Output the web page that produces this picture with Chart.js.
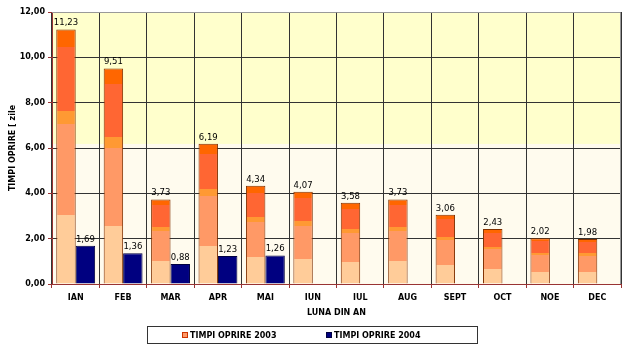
<!DOCTYPE html>
<html>
<head>
<meta charset="utf-8">
<script src="https://cdn.jsdelivr.net/npm/chart.js@4.4.1/dist/chart.umd.min.js"></script>
<style>
  html, body { margin: 0; padding: 0; background: #fff; }
  canvas { display: block; }
</style>
</head>
<body>
<canvas id="opririChart" width="625" height="346"></canvas>
<script>
// luni si timpi de oprire (zile)
const months = ["IAN", "FEB", "MAR", "APR", "MAI", "IUN", "IUL", "AUG", "SEPT", "OCT", "NOE", "DEC"]
const opriri2003 = [11.23, 9.51, 3.73, 6.19, 4.34, 4.07, 3.58, 3.73, 3.06, 2.43, 2.02, 1.98]
const opriri2004 = [1.69, 1.36, 0.88, 1.23, 1.26, null, null, null, null, null, null, null]
const yTicks = [0, 2, 4, 6, 8, 10, 12]

const seriesNames = ["TIMPI OPRIRE 2003", "TIMPI OPRIRE 2004"]

const FONT = '"DejaVu Sans", Verdana, sans-serif'
const AXIS_RED = "#993333"
const fmt = v => v.toFixed(2).replace(".", ",")

// benzi de culoare ale barelor 2003 (ca un gradient in trepte)
const bands = [
    [0.00, 0.27, "#FFCC99"],
    [0.27, 0.63, "#FF9966"],
    [0.63, 0.68, "#FF9933"],
    [0.68, 0.93, "#FF6633"],
    [0.93, 1.00, "#FF6600"]
]

function bandFill(ctx) {
    const chart = ctx.chart
    const v = ctx.raw
    const y = chart.scales && chart.scales.y
    if (ctx.type !== "data" || v == null || !y) return "#FF9966"
    const base = y.getPixelForValue(0)
    const top = y.getPixelForValue(v)
    if (!isFinite(base) || !isFinite(top)) return "#FF9966"
    const g = chart.ctx.createLinearGradient(0, base, 0, top)
    bands.forEach(b => {
        g.addColorStop(b[0], b[2])
        g.addColorStop(b[1], b[2])
    })
    return g
}

// fundalul zonei de desenare
const plotBackground = {
    id: "plotBackground",
    beforeDraw(chart) {
        const {ctx, chartArea: a, scales} = chart
        ctx.save()
        ctx.fillStyle = "#fff"
        ctx.fillRect(0, 0, chart.width, chart.height)
        ctx.fillStyle = "#FFFBEE"
        ctx.fillRect(a.left, a.top, a.right - a.left, a.bottom - a.top)
        const split = scales.y.getPixelForValue(6.18)
        ctx.fillStyle = "#FFFFCC"
        ctx.fillRect(a.left, a.top, a.right - a.left, split - a.top)
        ctx.restore()
    },
    afterDraw(chart) {
        const {ctx, chartArea: a} = chart
        ctx.save()
        ctx.strokeStyle = "#999"
        ctx.lineWidth = 1
        ctx.beginPath()
        ctx.moveTo(a.left, a.top + 0.5)
        ctx.lineTo(a.right - 0.5, a.top + 0.5)
        ctx.lineTo(a.right - 0.5, a.bottom)
        ctx.stroke()
        ctx.restore()
    }
}

// valorile deasupra barelor
const valueLabels = {
    id: "valueLabels",
    afterDatasetsDraw(chart) {
        const ctx = chart.ctx
        ctx.save()
        ctx.font = "8.5px " + FONT
        ctx.fillStyle = "#000"
        ctx.textAlign = "center"
        ctx.textBaseline = "alphabetic"
        chart.data.datasets.forEach((ds, i) => {
            chart.getDatasetMeta(i).data.forEach((bar, j) => {
                const v = ds.data[j]
                if (v == null) return
                ctx.fillText(fmt(v), bar.x, bar.y - 4)
            })
        })
        ctx.restore()
    }
}

// legenda cu chenar
const boxedLegend = {
    id: "boxedLegend",
    afterDraw(chart) {
        const ctx = chart.ctx
        ctx.save()
        ctx.strokeStyle = "#333"
        ctx.lineWidth = 1
        ctx.strokeRect(147.5, 326.5, 330, 17)
        ctx.font = "bold 8px " + FONT
        ctx.textBaseline = "middle"
        const items = [
            {x: 182, fill: "#FF9966", stroke: "#CC3300"},
            {x: 326, fill: "#000080", stroke: "#000040"}
        ]
        items.forEach((it, i) => {
            ctx.fillStyle = it.fill
            ctx.fillRect(it.x, 332, 6, 6)
            ctx.strokeStyle = it.stroke
            ctx.strokeRect(it.x + 0.5, 332.5, 5, 5)
            ctx.fillStyle = "#000"
            ctx.fillText(seriesNames[i], it.x + 8, 335.5)
        })
        ctx.restore()
    }
}

let CHART = document.getElementById("opririChart")
let opririChart = new Chart(CHART, {
    type: "bar",
    data: {
        labels: months,
        datasets: [
            {
                label: seriesNames[0],
                data: opriri2003,
                backgroundColor: bandFill,
                borderColor: "#803000",
                borderWidth: 1,
                borderSkipped: "bottom"
            },
            {
                label: seriesNames[1],
                data: opriri2004,
                backgroundColor: "#000080",
                borderColor: "#000040",
                borderWidth: 1,
                borderSkipped: "bottom"
            }
        ]
    },
    options: {
        responsive: false,
        animation: false,
        categoryPercentage: 0.82,
        barPercentage: 1,
        layout: {padding: {left: 4, right: 4, top: 12, bottom: 26}},
        plugins: {
            legend: {display: false},
            tooltip: {enabled: false}
        },
        scales: {
            x: {
                grid: {
                    offset: true,
                    color: "#333",
                    lineWidth: 1,
                    tickColor: AXIS_RED,
                    tickLength: 4
                },
                border: {color: AXIS_RED, width: 1},
                ticks: {
                    color: "#000",
                    font: {family: FONT, size: 8, weight: "bold"},
                    padding: 5,
                    maxRotation: 0,
                    autoSkip: false
                },
                title: {
                    display: true,
                    text: "LUNA DIN AN",
                    color: "#000",
                    font: {family: FONT, size: 8, weight: "bold"},
                    padding: {top: 4, bottom: 2}
                },
                afterFit: s => { s.height = 36 }
            },
            y: {
                min: 0,
                max: 12,
                afterBuildTicks: s => { s.ticks = yTicks.map(v => ({value: v})) },
                grid: {
                    color: "#333",
                    lineWidth: 1,
                    tickColor: AXIS_RED,
                    tickLength: 4
                },
                border: {color: AXIS_RED, width: 1},
                ticks: {
                    color: "#000",
                    font: {family: FONT, size: 8, weight: "bold"},
                    padding: 3,
                    callback: v => fmt(v)
                },
                title: {
                    display: true,
                    text: "TIMPI OPRIRE [ zile",
                    color: "#000",
                    font: {family: FONT, size: 8, weight: "bold"},
                    padding: {top: 4, bottom: 0}
                },
                afterFit: s => { s.width = 48 }
            }
        }
    },
    plugins: [plotBackground, valueLabels, boxedLegend]
})
</script>
</body>
</html>
